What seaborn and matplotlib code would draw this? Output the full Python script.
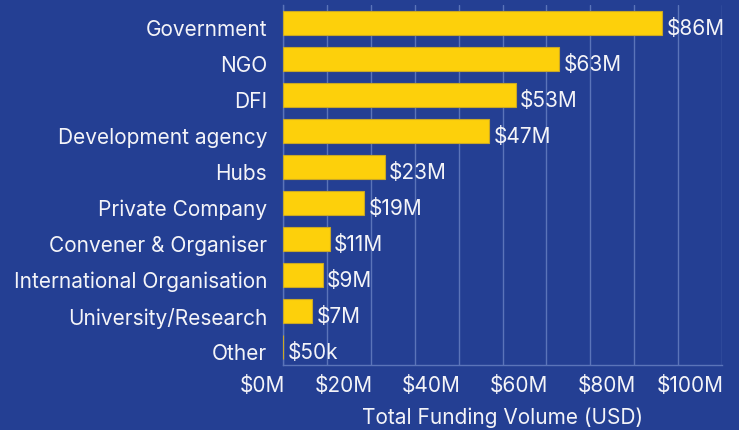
import pandas as pd
import numpy as np
import matplotlib
matplotlib.use("Agg")
import matplotlib.pyplot as plt
import matplotlib.transforms as mtransforms
from matplotlib.ticker import MultipleLocator, FuncFormatter
import seaborn as sns

# Veriler (milyon USD)
kategoriler = ["Government", "NGO", "DFI", "Development agency", "Hubs",
               "Private Company", "Convener & Organiser",
               "International Organisation", "University/Research", "Other"]
fonlama = [86.4, 62.9, 53.0, 47.0, 23.2, 18.5, 10.6, 9.1, 6.7, 0.05]
etiketler = ["$86M", "$63M", "$53M", "$47M", "$23M", "$19M", "$11M",
             "$9M", "$7M", "$50k"]

df = pd.DataFrame({"kategori": kategoriler, "fonlama": fonlama})

arka = "#243F93"
sari = "#FDD00B"
yazi = "#F4F4F8"
izgara = "#5B74B9"
boyut = 15

sns.set_theme(style="dark")
plt.rcParams["font.family"] = ["Inter", "DejaVu Sans"]

fig = plt.figure(figsize=(7.39, 4.30), dpi=100, facecolor=arka)
ax = fig.add_axes([0.383, 0.151, 0.594, 0.837])
ax.set_facecolor(arka)

sns.barplot(data=df, y="kategori", x="fonlama", orient="h", color=sari,
            width=0.667, edgecolor="#C9A825", linewidth=0.8, saturation=1,
            ax=ax, zorder=3)

ax.set_xlim(0, 100)
ax.set_ylim(9.5, -0.5)
ax.xaxis.set_major_locator(MultipleLocator(20))
ax.xaxis.set_minor_locator(MultipleLocator(10))
ax.xaxis.set_major_formatter(FuncFormatter(lambda v, p: f"${v:.0f}M"))
ax.grid(which="both", axis="x", color=izgara, linewidth=1, zorder=0)
ax.grid(False, axis="y")

for s in ["top", "right"]:
    ax.spines[s].set_visible(False)
for s in ["left", "bottom"]:
    ax.spines[s].set_color(izgara)
    ax.spines[s].set_linewidth(1)

ax.tick_params(axis="both", which="both", length=0, colors=yazi, labelsize=boyut)
ax.tick_params(axis="y", pad=11.5)
ax.tick_params(axis="x", pad=8)
for lab in ax.get_xticklabels():
    lab.set_horizontalalignment("right")
    lab.set_transform(lab.get_transform() +
                      mtransforms.ScaledTranslation(2 / 100, 0, fig.dpi_scale_trans))

kaydir = mtransforms.ScaledTranslation(0, -5 / 100, fig.dpi_scale_trans)
for lab in ax.get_yticklabels():
    lab.set_transform(lab.get_transform() + kaydir)

ax.set_ylabel("")
ax.set_xlabel("Total Funding Volume (USD)", color=yazi, fontsize=boyut, labelpad=8)

bar_yazilari = ax.bar_label(ax.containers[0], labels=etiketler, padding=3,
                            color=yazi, fontsize=boyut)
# etiketleri biraz aşağı kaydır (nokta cinsinden)
for t in bar_yazilari:
    t.xyann = (3, -4.5)

fig.savefig("out.png", dpi=100, facecolor=arka)
